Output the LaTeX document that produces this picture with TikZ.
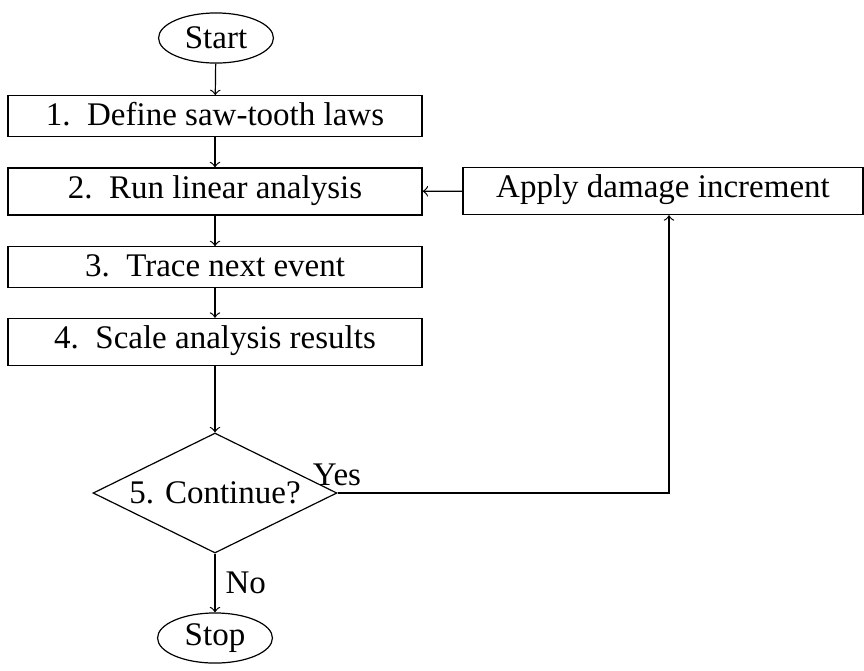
\documentclass[tikz,border=0pt]{standalone}
\usepackage{fontspec}
\setmainfont{Liberation Serif}
\usetikzlibrary{shapes.geometric}
\begin{document}
\begin{tikzpicture}[x=0.33333pt,y=-0.33333pt,
  every node/.style={font=\fontsize{11}{13}\selectfont},
  stepbox/.style={draw, rectangle, minimum width=138pt, text height=6.8pt, inner xsep=4pt, inner ysep=3.27pt, anchor=center},
  termbox/.style={draw, ellipse, minimum width=38.3pt, minimum height=16.7pt, inner sep=0pt},
  decbox/.style={draw, diamond, aspect=2, minimum width=81.3pt, minimum height=40pt, inner sep=0pt},
  conn/.style={->}]
\useasboundingbox (0,0) rectangle (864,670);
\node[termbox] (start) at (216,38) {Start};
\node[stepbox] (s1) at (215,116) {1.\ \ Define saw-tooth laws};
\node[stepbox] (s2) at (215,191.5) {2.\ \ Run linear analysis};
\node[stepbox] (s3) at (215,267) {3.\ \ Trace next event};
\node[stepbox] (s4) at (215,342) {4.\ \ Scale analysis results};
\node[decbox] (dec) at (215,493) {5. Continue?};
\node[termbox] (stop) at (215,638) {Stop};
\node[stepbox, minimum width=133.3pt] (apply) at (663,191) {Apply damage increment};
\coordinate (turn) at (669,493);
\draw[conn] (start) -- (s1);
\draw[conn] (s1) -- (s2);
\draw[conn] (s2) -- (s3);
\draw[conn] (s3) -- (s4);
\draw[conn] (s4) -- (dec);
\draw[conn] (dec) -- node[right] {No} (stop);
\draw[conn] (dec.east) -- (turn) -- (turn |- apply.south);
\node (yes) at (337,475) {Yes};
\draw[conn] (apply) -- (s2);
\end{tikzpicture}
\end{document}
